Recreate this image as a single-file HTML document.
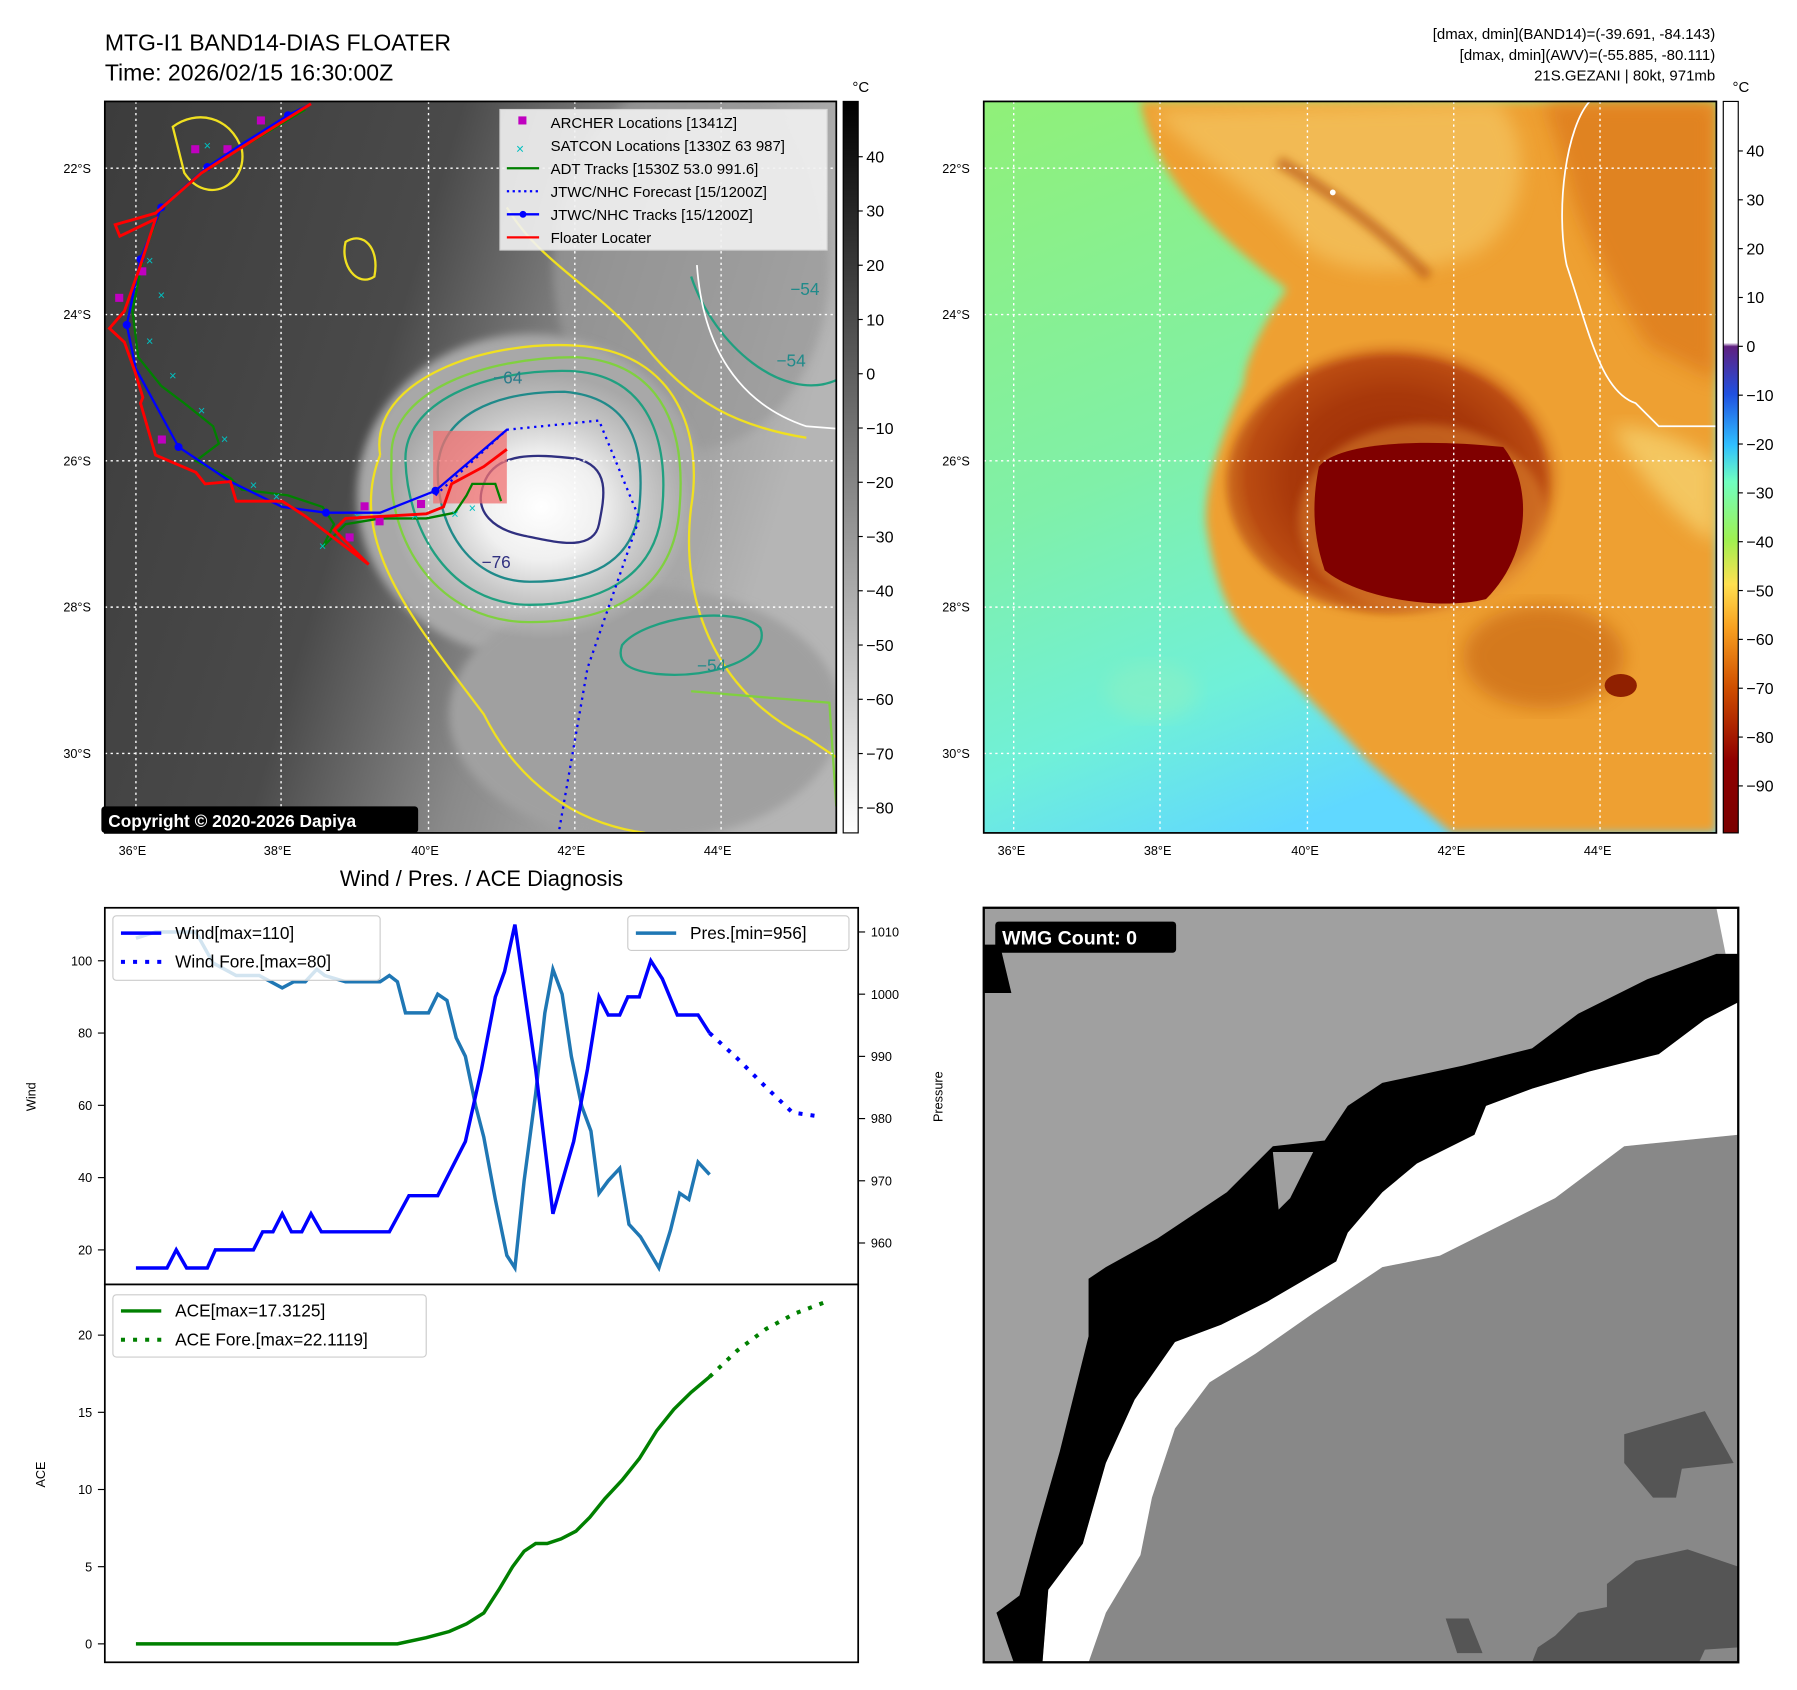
<!DOCTYPE html>
<html><head><meta charset="utf-8">
<style>
html,body{margin:0;padding:0;background:#fff;}
svg{display:block;font-family:"Liberation Sans",sans-serif;}
</style></head>
<body>
<svg id="fig" width="1797" height="1690" viewBox="0 0 1560 1467" xmlns="http://www.w3.org/2000/svg">
<defs>
<linearGradient id="lbg" x1="0" y1="0" x2="1" y2="0.3">
<stop offset="0" stop-color="#3c3c3c"/><stop offset="0.45" stop-color="#4a4a4a"/><stop offset="0.7" stop-color="#8a8a8a"/><stop offset="1" stop-color="#b5b5b5"/></linearGradient>
<radialGradient id="storm" cx="0.5" cy="0.5" r="0.5">
<stop offset="0" stop-color="#ffffff"/><stop offset="0.4" stop-color="#f0f0f0"/><stop offset="0.7" stop-color="#c8c8c8"/><stop offset="1" stop-color="#c8c8c8" stop-opacity="0"/></radialGradient>
<linearGradient id="cb1" x1="0" y1="0" x2="0" y2="1"><stop offset="0" stop-color="#000"/><stop offset="1" stop-color="#fff"/></linearGradient>
<linearGradient id="cb2" x1="0" y1="0" x2="0" y2="1">
<stop offset="0" stop-color="#fff"/><stop offset="0.33" stop-color="#fff"/><stop offset="0.335" stop-color="#602080"/><stop offset="0.4" stop-color="#2050e0"/><stop offset="0.47" stop-color="#30c0ff"/><stop offset="0.52" stop-color="#70ffc0"/><stop offset="0.6" stop-color="#a0f050"/><stop offset="0.66" stop-color="#ffe050"/><stop offset="0.72" stop-color="#f8a020"/><stop offset="0.8" stop-color="#d05000"/><stop offset="0.9" stop-color="#900000"/><stop offset="1" stop-color="#7a0000"/></linearGradient>
<linearGradient id="rbg" x1="0" y1="0" x2="0.4" y2="1">
<stop offset="0" stop-color="#90f078"/><stop offset="0.5" stop-color="#80f0a8"/><stop offset="0.8" stop-color="#70f0d8"/><stop offset="1" stop-color="#60d8ff"/></linearGradient>
<radialGradient id="reye" cx="0.5" cy="0.5" r="0.5">
<stop offset="0" stop-color="#801000"/><stop offset="0.6" stop-color="#a03008"/><stop offset="0.85" stop-color="#c85a18"/><stop offset="1" stop-color="#e08a28" stop-opacity="0"/></radialGradient>
<filter id="blur4"><feGaussianBlur stdDeviation="4"/></filter>
<filter id="blur8"><feGaussianBlur stdDeviation="8"/></filter>
<clipPath id="clipL"><rect x="91" y="88" width="635" height="635"/></clipPath>
<clipPath id="clipR"><rect x="854" y="88" width="636" height="635"/></clipPath>
<clipPath id="clipB"><rect x="854" y="788" width="655" height="655"/></clipPath>
</defs>

<text x="91" y="44" font-size="20">MTG-I1 BAND14-DIAS FLOATER</text>
<text x="91" y="70" font-size="20">Time: 2026/02/15 16:30:00Z</text>
<g font-size="13" text-anchor="end">
<text x="1489" y="34">[dmax, dmin](BAND14)=(-39.691, -84.143)</text>
<text x="1489" y="52">[dmax, dmin](AWV)=(-55.885, -80.111)</text>
<text x="1489" y="70">21S.GEZANI | 80kt, 971mb</text>
</g>

<!-- LEFT MAP -->
<g clip-path="url(#clipL)">
<rect x="91" y="88" width="635" height="635" fill="url(#lbg)"/>
<ellipse cx="600" cy="230" rx="120" ry="160" fill="#9a9a9a" filter="url(#blur4)" opacity="0.7"/>
<ellipse cx="460" cy="430" rx="150" ry="140" fill="#a8a8a8" filter="url(#blur4)"/>
<ellipse cx="560" cy="620" rx="170" ry="110" fill="#a0a0a0" filter="url(#blur4)"/>
<ellipse cx="470" cy="440" rx="130" ry="115" fill="url(#storm)"/>
<g fill="none" stroke-width="2">
<path d="M330,395 C320,330 420,295 500,300 C590,305 610,380 600,440 C590,520 620,600 700,640 L730,660" stroke="#f0e020"/>
<path d="M330,395 C300,470 360,540 420,620 C450,680 500,715 560,723" stroke="#f0e020"/>
<path d="M440,180 C470,230 520,250 560,300 C600,350 640,370 700,380" stroke="#f0e020"/>
<path d="M340,400 C335,340 420,310 500,310 C580,315 595,380 590,440 C585,520 520,540 460,540 C380,540 335,470 340,400Z" stroke="#80d040"/>
<path d="M352,400 C350,350 420,320 495,322 C565,325 580,385 575,440 C570,505 515,525 460,525 C390,525 354,460 352,400Z" stroke="#20a080"/>
<path d="M380,410 C380,360 430,340 490,340 C550,345 560,390 555,440 C550,490 510,505 460,505 C410,505 380,460 380,410Z" stroke="#208a8a"/>
<path d="M420,420 C430,390 470,395 500,398 C530,405 525,430 520,455 C515,480 480,470 455,465 C430,460 410,445 420,420Z" stroke="#303080"/>
<path d="M540,560 C560,535 640,525 660,545 C670,570 620,590 570,585 C545,582 535,575 540,560Z" stroke="#20a080"/>
<path d="M150,110 C170,95 200,100 210,130 C215,160 180,180 160,150Z" stroke="#f0e020"/>
<path d="M300,210 C315,200 330,215 325,240 C310,250 295,230 300,210Z" stroke="#f0e020"/>
<path d="M600,600 L720,610 L726,700" stroke="#80d040"/>
<path d="M600,240 C620,300 680,350 726,330" stroke="#20a080"/>
<path d="M605,230 C610,300 640,350 700,370 L726,372" stroke="#ffffff" stroke-width="1.5"/>
</g>
<g font-size="15" fill="#208a8a">
<text x="428" y="333" fill="#2a7a8a">−64</text><text x="418" y="493" fill="#303080">−76</text>
<text x="605" y="583">−54</text><text x="686" y="256">−54</text><text x="674" y="318">−54</text>
</g>
<g stroke-width="1.2" stroke="#fff" stroke-dasharray="2,3" fill="none">
<line x1="118" y1="88" x2="118" y2="723"/><line x1="244" y1="88" x2="244" y2="723"/><line x1="372" y1="88" x2="372" y2="723"/><line x1="499" y1="88" x2="499" y2="723"/><line x1="626" y1="88" x2="626" y2="723"/>
<line x1="91" y1="146" x2="726" y2="146"/><line x1="91" y1="273" x2="726" y2="273"/><line x1="91" y1="400" x2="726" y2="400"/><line x1="91" y1="527" x2="726" y2="527"/><line x1="91" y1="654" x2="726" y2="654"/>
</g>
<rect x="376" y="374" width="64" height="63" fill="#f07070" opacity="0.75"/>
<polyline fill="none" stroke="#008000" stroke-width="2" points="265,95 215,125 180,145 140,180 125,220 115,270 120,310 140,335 160,350 185,370 190,385 170,400 200,415 210,425 250,430 280,440 290,455 280,475 300,455 330,450 370,450 395,445 405,430 410,420 430,420 435,435"/>
<g fill="#00c0c0" font-size="11" text-anchor="middle">
<text x="130" y="230">×</text><text x="140" y="260">×</text><text x="130" y="300">×</text><text x="150" y="330">×</text><text x="175" y="360">×</text><text x="195" y="385">×</text><text x="220" y="425">×</text><text x="240" y="435">×</text><text x="280" y="478">×</text><text x="310" y="452">×</text><text x="360" y="452">×</text><text x="395" y="450">×</text><text x="410" y="445">×</text><text x="180" y="130">×</text>
</g>
<g fill="#c000c0">
<rect x="223" y="101" width="7" height="7"/><rect x="166" y="126" width="7" height="7"/><rect x="194" y="126" width="7" height="7"/><rect x="120" y="232" width="7" height="7"/><rect x="100" y="255" width="7" height="7"/><rect x="137" y="378" width="7" height="7"/><rect x="313" y="436" width="7" height="7"/><rect x="326" y="449" width="7" height="7"/><rect x="300" y="463" width="7" height="7"/><rect x="362" y="434" width="7" height="7"/>
</g>
<polyline fill="none" stroke="#0000ff" stroke-width="2" stroke-dasharray="2,4" points="378,430 440,373 520,365 555,450 510,580 485,723"/>
<polyline fill="none" stroke="#0000ff" stroke-width="2" points="270,90 250,100 210,125 180,145 140,180 122,225 110,282 118,320 155,388 200,418 245,440 283,445 330,445 378,426 440,373"/>
<g fill="#0000ff"><circle cx="250" cy="100" r="3.5"/><circle cx="180" cy="145" r="3.5"/><circle cx="140" cy="180" r="3.5"/><circle cx="122" cy="225" r="3.5"/><circle cx="110" cy="282" r="3.5"/><circle cx="155" cy="388" r="3.5"/><circle cx="283" cy="445" r="3.5"/><circle cx="378" cy="426" r="3.5"/></g>
<polyline fill="none" stroke="#ff0000" stroke-width="2.5" points="270,90 230,115 175,150 135,185 100,195 104,205 135,190 122,230 108,270 95,285 108,297 117,322 124,345 122,350 135,395 170,410 178,420 200,418 205,435 245,435 265,448 320,490 290,460 300,450 370,446 385,440 392,420 420,405 440,390"/>
</g>
<rect x="88" y="700" width="275" height="23" fill="#000" rx="3"/>
<text x="94" y="718" font-size="15" font-weight="bold" fill="#fff">Copyright © 2020-2026 Dapiya</text>
<rect x="91" y="88" width="635" height="635" fill="none" stroke="#000" stroke-width="1.5"/>
<g font-size="13">
<rect x="434" y="95" width="284" height="122" fill="#f2f2f2" opacity="0.9" stroke="#ddd"/>
<rect x="450" y="101" width="7" height="7" fill="#c000c0"/><text x="478" y="111">ARCHER Locations [1341Z]</text>
<text x="448" y="133" fill="#00c0c0" font-size="12">×</text><text x="478" y="131">SATCON Locations [1330Z 63 987]</text>
<line x1="440" y1="146" x2="468" y2="146" stroke="#008000" stroke-width="2"/><text x="478" y="151">ADT Tracks [1530Z 53.0 991.6]</text>
<line x1="440" y1="166" x2="468" y2="166" stroke="#0000ff" stroke-width="2" stroke-dasharray="2,3"/><text x="478" y="171">JTWC/NHC Forecast [15/1200Z]</text>
<line x1="440" y1="186" x2="468" y2="186" stroke="#0000ff" stroke-width="2"/><circle cx="454" cy="186" r="3" fill="#0000ff"/><text x="478" y="191">JTWC/NHC Tracks [15/1200Z]</text>
<line x1="440" y1="206" x2="468" y2="206" stroke="#ff0000" stroke-width="2"/><text x="478" y="211">Floater Locater</text>
</g>
<g>
<rect x="732" y="88" width="13" height="635" fill="url(#cb1)" stroke="#000"/>
<text x="740" y="80" font-size="13">°C</text>
<g font-size="14" id="cb1ticks"></g>
</g>
<g font-size="11">
<text x="103" y="742">36°E</text><text x="229" y="742">38°E</text><text x="357" y="742">40°E</text><text x="484" y="742">42°E</text><text x="611" y="742">44°E</text>
<text x="55" y="150">22°S</text><text x="55" y="277">24°S</text><text x="55" y="404">26°S</text><text x="55" y="531">28°S</text><text x="55" y="658">30°S</text>
</g>

<!-- RIGHT MAP -->
<g clip-path="url(#clipR)">
<rect x="854" y="88" width="636" height="635" fill="url(#rbg)"/>
<ellipse cx="1000" cy="600" rx="40" ry="25" fill="#90f0c0" opacity="0.5" filter="url(#blur8)"/>
<path d="M990,88 C1000,150 1050,200 1117,251 C1090,290 1080,320 1080,332 C1060,380 1045,420 1047,455 C1055,510 1070,540 1088,557 C1130,600 1170,640 1187,660 C1220,690 1245,710 1260,723 L1490,723 L1490,88Z" fill="#eea030" filter="url(#blur4)"/>
<path d="M1000,95 C1030,130 1080,160 1120,200 C1140,230 1200,250 1280,220 C1330,190 1330,120 1300,88Z" fill="#f6d070" opacity="0.55" filter="url(#blur8)"/>
<path d="M1340,88 L1490,88 L1490,330 L1430,300 C1400,250 1370,200 1360,150Z" fill="#d87018" opacity="0.6" filter="url(#blur8)"/>
<path d="M1400,370 C1430,430 1480,470 1490,470 L1490,400 C1460,380 1430,370 1400,370Z" fill="#f8e080" opacity="0.6" filter="url(#blur8)"/>
<path d="M1110,140 C1160,170 1200,200 1240,240" stroke="#b04808" stroke-width="10" fill="none" opacity="0.6" filter="url(#blur4)"/>
<ellipse cx="1210" cy="415" rx="150" ry="122" fill="url(#reye)"/>
<ellipse cx="1205" cy="420" rx="140" ry="112" fill="#b04010" opacity="0.55" filter="url(#blur4)"/>
<ellipse cx="1235" cy="450" rx="108" ry="82" fill="#e08a30" opacity="0.5" filter="url(#blur4)"/>
<ellipse cx="1340" cy="570" rx="70" ry="45" fill="#c05a10" opacity="0.55" filter="url(#blur8)"/>
<path d="M1145,405 C1160,385 1230,380 1305,388 C1330,420 1330,480 1290,520 C1250,530 1180,520 1150,495 C1138,460 1140,430 1145,405Z" fill="#800000"/>
<ellipse cx="1407" cy="595" rx="14" ry="10" fill="#902000"/>
<path d="M1380,88 C1360,110 1350,180 1360,230 C1380,290 1390,340 1420,350 L1440,370 L1490,370" stroke="#fff" stroke-width="1.5" fill="none"/>
<circle cx="1157" cy="167" r="2.5" fill="#fff"/>
<g stroke-width="1.2" stroke="#fff" stroke-dasharray="2,3" fill="none">
<line x1="880" y1="88" x2="880" y2="723"/><line x1="1007" y1="88" x2="1007" y2="723"/><line x1="1135" y1="88" x2="1135" y2="723"/><line x1="1262" y1="88" x2="1262" y2="723"/><line x1="1389" y1="88" x2="1389" y2="723"/>
<line x1="854" y1="146" x2="1490" y2="146"/><line x1="854" y1="273" x2="1490" y2="273"/><line x1="854" y1="400" x2="1490" y2="400"/><line x1="854" y1="527" x2="1490" y2="527"/><line x1="854" y1="654" x2="1490" y2="654"/>
</g>
</g>
<rect x="854" y="88" width="636" height="635" fill="none" stroke="#000" stroke-width="1.5"/>
<g font-size="11">
<text x="866" y="742">36°E</text><text x="993" y="742">38°E</text><text x="1121" y="742">40°E</text><text x="1248" y="742">42°E</text><text x="1375" y="742">44°E</text>
<text x="818" y="150">22°S</text><text x="818" y="277">24°S</text><text x="818" y="404">26°S</text><text x="818" y="531">28°S</text><text x="818" y="658">30°S</text>
</g>
<g>
<rect x="1496" y="88" width="13" height="635" fill="url(#cb2)" stroke="#000"/>
<text x="1504" y="80" font-size="13">°C</text>
<g font-size="14" id="cb2ticks"></g>
</g>

<!-- DIAGNOSIS CHART -->
<text x="418" y="769" font-size="19" text-anchor="middle">Wind / Pres. / ACE Diagnosis</text>
<g id="windChart">
<rect x="91" y="788" width="654" height="327" fill="#fff" stroke="#000" stroke-width="1.5"/>
</g>
<g id="aceChart">
<rect x="91" y="1115" width="654" height="328" fill="#fff" stroke="#000" stroke-width="1.5"/>
</g>
<text x="31" y="952" font-size="11" transform="rotate(-90 31 952)" text-anchor="middle">Wind</text>
<text x="818" y="952" font-size="11" transform="rotate(-90 818 952)" text-anchor="middle">Pressure</text>
<text x="39" y="1280" font-size="11" transform="rotate(-90 39 1280)" text-anchor="middle">ACE</text>

<!-- WMG panel -->
<g clip-path="url(#clipB)">
<rect x="854" y="788" width="655" height="655" fill="#a0a0a0"/>
<polygon points="1490,788 1509,788 1509,828 1498,828" fill="#fff"/>
<polygon fill="#888" points="1509,985 1410,995 1350,1040 1300,1065 1250,1090 1200,1100 1140,1140 1090,1175 1050,1200 1020,1240 1000,1300 990,1350 960,1400 945,1443 1509,1443"/>
<polygon fill="#fff" points="1509,870 1480,885 1440,915 1380,930 1330,945 1290,960 1280,985 1230,1010 1200,1035 1170,1070 1160,1095 1100,1130 1060,1150 1020,1165 985,1215 960,1270 940,1340 910,1380 905,1443 945,1443 960,1400 990,1350 1000,1300 1020,1240 1050,1200 1090,1175 1140,1140 1200,1100 1250,1090 1300,1065 1350,1040 1410,995 1509,985"/>
<polygon fill="#000" points="865,1400 885,1385 900,1330 920,1260 945,1160 945,1110 960,1100 1005,1075 1065,1035 1105,995 1150,990 1170,960 1200,940 1270,925 1330,910 1370,880 1430,850 1490,828 1509,828 1509,870 1480,885 1440,915 1380,930 1330,945 1290,960 1280,985 1230,1010 1200,1035 1170,1070 1160,1095 1100,1130 1060,1150 1020,1165 985,1215 960,1270 940,1340 910,1380 905,1443 880,1443"/>
<polygon fill="#a0a0a0" points="1105,1000 1140,1000 1120,1040 1110,1050"/>
<polygon fill="#000" points="854,820 868,820 878,862 854,862"/>
<polygon fill="#555" points="1410,1245 1480,1225 1505,1270 1460,1275 1455,1300 1435,1300 1410,1270"/>
<polygon fill="#555" points="1509,1360 1465,1345 1420,1355 1395,1375 1395,1395 1370,1400 1350,1420 1335,1430 1330,1443 1509,1443"/>
<polygon fill="#888" points="1475,1443 1509,1443 1509,1430 1480,1432"/>
<polygon fill="#555" points="1255,1405 1275,1405 1287,1435 1265,1435"/>
</g>
<rect x="854" y="788" width="655" height="655" fill="none" stroke="#000" stroke-width="2"/>
<rect x="864" y="800" width="157" height="27" rx="3" fill="#000"/>
<text x="870" y="820" font-size="17" font-weight="bold" fill="#fff">WMG Count: 0</text>

<script>
var cb1Labels = [40,30,20,10,0,-10,-20,-30,-40,-50,-60,-70,-80];
var cb2Labels = [40,30,20,10,0,-10,-20,-30,-40,-50,-60,-70,-80,-90];
var windT = [0,27,35,44,62,69,102,110,119,127,135,144,152,161,220,237,262,286,300,312,320,329,347,362,380,392,402,410,420,427,437,447,457,470,488,498];
var windV = [15,15,20,15,15,20,20,25,25,30,25,25,30,25,25,35,35,50,70,90,97,110,70,30,50,70,90,85,85,90,90,100,95,85,85,80];
var windFcstT = [498,522,547,570,592];
var windFcstV = [80,73,65,58,57];
var presT = [0,17,52,67,87,107,127,137,147,157,164,182,212,220,227,234,254,262,270,278,286,295,302,312,322,329,337,347,355,362,370,378,387,395,402,410,420,428,438,454,464,472,480,488,498];
var presV = [1009,1010,1010,1005,1003,1003,1001,1002,1002,1004,1003,1002,1002,1003,1002,997,997,1000,999,993,990,982,977,967,958,956,970,984,997,1004,1000,990,982,978,968,970,972,963,961,956,962,968,967,973,971];
var aceT = [0,227,252,272,287,302,315,327,337,347,357,369,382,394,407,422,437,452,467,482,498];
var aceV = [0,0,0.4,0.8,1.3,2,3.5,5,6,6.5,6.5,6.8,7.3,8.2,9.4,10.6,12,13.8,15.2,16.3,17.3];
var aceFcstT = [498,522,547,572,597];
var aceFcstV = [17.3,19,20.4,21.4,22.1];
var windTicks = [20,40,60,80,100];
var presTicks = [960,970,980,990,1000,1010];
var aceTicks = [0,5,10,15,20];

var NS = "http://www.w3.org/2000/svg";
function mk(tag, attrs, parent){ var e=document.createElementNS(NS,tag); for(var k in attrs) e.setAttribute(k,attrs[k]); parent.appendChild(e); return e; }
function xS(t){ return 118 + t; }
function yWind(v){ return 1085 - (v-20)*(251/80); }
function yPres(p){ return 1079 - (p-960)*5.4; }
function yAce(a){ return 1427 - a*13.4; }
function yCb1(v){ return 136 + (40-v)*4.71; }
function yCb2(v){ return 131 + (40-v)*4.24; }
function pts(T,V,fy){ return T.map(function(t,i){ return xS(t)+","+fy(V[i]); }).join(" "); }

var g1=document.getElementById('cb1ticks');
cb1Labels.forEach(function(v){
  var y=yCb1(v);
  var l=mk('line',{x1:745,y1:y,x2:749,y2:y,stroke:'#000'},g1);
  
  
  var t=mk('text',{x:752,y:y+5},g1); t.textContent=(v<0?'−'+(-v):v);
  
  
});
var g2=document.getElementById('cb2ticks');
cb2Labels.forEach(function(v){
  var y=yCb2(v);
  var l=mk('line',{x1:1509,y1:y,x2:1513,y2:y,stroke:'#000'},g2);
  
  
  var t=mk('text',{x:1516,y:y+5},g2); t.textContent=(v<0?'−'+(-v):v);
  
  
});

var wc=document.getElementById('windChart');
windTicks.forEach(function(v){
  var y=yWind(v);
  mk('line',{x1:85,y1:y,x2:91,y2:y,stroke:'#000'},wc);
  var t=mk('text',{x:80,y:y+4,'font-size':11,'text-anchor':'end'},wc); t.textContent=v;
  
  
});
presTicks.forEach(function(v){
  var y=yPres(v);
  mk('line',{x1:745,y1:y,x2:751,y2:y,stroke:'#000'},wc);
  var t=mk('text',{x:756,y:y+4,'font-size':11},wc); t.textContent=v;
  
  
});
var pl=mk('polyline',{points:pts(presT,presV,yPres),fill:'none',stroke:'#1f77b4','stroke-width':3},wc);


var wl=mk('polyline',{points:pts(windT,windV,yWind),fill:'none',stroke:'#0000ff','stroke-width':3},wc);


var wf=mk('polyline',{points:pts(windFcstT,windFcstV,yWind),fill:'none',stroke:'#0000ff','stroke-width':3.5,'stroke-dasharray':'3.5,7'},wc);


var lg=mk('g',{'font-size':15},wc);


mk('rect',{x:98,y:795,width:232,height:56,fill:'#fff','fill-opacity':0.8,stroke:'#ccc',rx:3},lg);
mk('line',{x1:105,y1:810,x2:140,y2:810,stroke:'#0000ff','stroke-width':3},lg);
mk('text',{x:152,y:815},lg).textContent='Wind[max=110]';
mk('line',{x1:105,y1:835,x2:140,y2:835,stroke:'#0000ff','stroke-width':3.5,'stroke-dasharray':'3.5,7'},lg);
mk('text',{x:152,y:840},lg).textContent='Wind Fore.[max=80]';
var pg=mk('g',{'font-size':15},wc);


mk('rect',{x:545,y:795,width:192,height:30,fill:'#fff','fill-opacity':0.8,stroke:'#ccc',rx:3},pg);
mk('line',{x1:552,y1:810,x2:587,y2:810,stroke:'#1f77b4','stroke-width':3},pg);
mk('text',{x:599,y:815},pg).textContent='Pres.[min=956]';

var ac=document.getElementById('aceChart');
aceTicks.forEach(function(v){
  var y=yAce(v);
  mk('line',{x1:85,y1:y,x2:91,y2:y,stroke:'#000'},ac);
  var t=mk('text',{x:80,y:y+4,'font-size':11,'text-anchor':'end'},ac); t.textContent=v;
  
  
});
var al=mk('polyline',{points:pts(aceT,aceV,yAce),fill:'none',stroke:'#008000','stroke-width':3},ac);


var af=mk('polyline',{points:pts(aceFcstT,aceFcstV,yAce),fill:'none',stroke:'#008000','stroke-width':3.5,'stroke-dasharray':'3.5,7'},ac);


var ag=mk('g',{'font-size':15},ac);


mk('rect',{x:98,y:1124,width:272,height:54,fill:'#fff','fill-opacity':0.8,stroke:'#ccc',rx:3},ag);
mk('line',{x1:105,y1:1138,x2:140,y2:1138,stroke:'#008000','stroke-width':3},ag);
mk('text',{x:152,y:1143},ag).textContent='ACE[max=17.3125]';
mk('line',{x1:105,y1:1163,x2:140,y2:1163,stroke:'#008000','stroke-width':3.5,'stroke-dasharray':'3.5,7'},ag);
mk('text',{x:152,y:1168},ag).textContent='ACE Fore.[max=22.1119]';
</script>
</svg>
</body></html>
